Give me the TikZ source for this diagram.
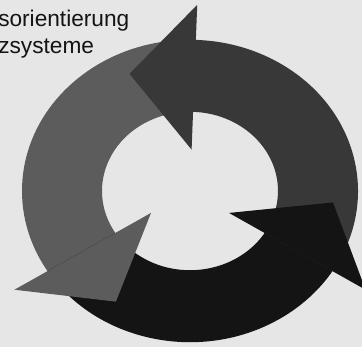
\documentclass[tikz,border=0pt]{standalone}
\usepackage{fontspec}
\setmainfont{Liberation Sans}
\usepackage{xcolor}
\usepackage{tikz}
\usetikzlibrary{calc}

\definecolor{bggray}{HTML}{E6E6E6}
\definecolor{arrowdark}{HTML}{383838}
\definecolor{arrowmid}{HTML}{5C5C5C}
\definecolor{arrowblack}{HTML}{141414}

\begin{document}
\begin{tikzpicture}[x=0.75pt, y=0.75pt,
    label/.style={anchor=base west, inner sep=0pt, text=black!92,
      font=\fontsize{17}{20}\selectfont}]
    \fill[bggray] (-190,-156) rectangle (172,191);
    \useasboundingbox (-190,-156) rectangle (172,191);
    \node[label] (topline) at (-192,164.3) {sorientierung};
    \node[label] (botline) at (-192,137.6) {zsysteme};
    \begin{scope}[yscale=0.9]
        % bodies first, heads on top of the next tail
        \foreach \a/\b/\col in {88/212/arrowmid, 212/328/arrowblack, -32/88/arrowdark}
            \fill[\col] (\a:168) arc[start angle=\a, end angle=\b+1, radius=168]
                -- (\b+1:88) arc[start angle=\b+1, end angle=\a, radius=88] -- cycle;
        \foreach \b/\col in {212/arrowmid, 328/arrowblack, 88/arrowdark}
            \fill[\col] (\b:207) -- ($(\b:128)+(\b+90:65)$) -- (\b:46) -- cycle;
    \end{scope}
\end{tikzpicture}
\end{document}
